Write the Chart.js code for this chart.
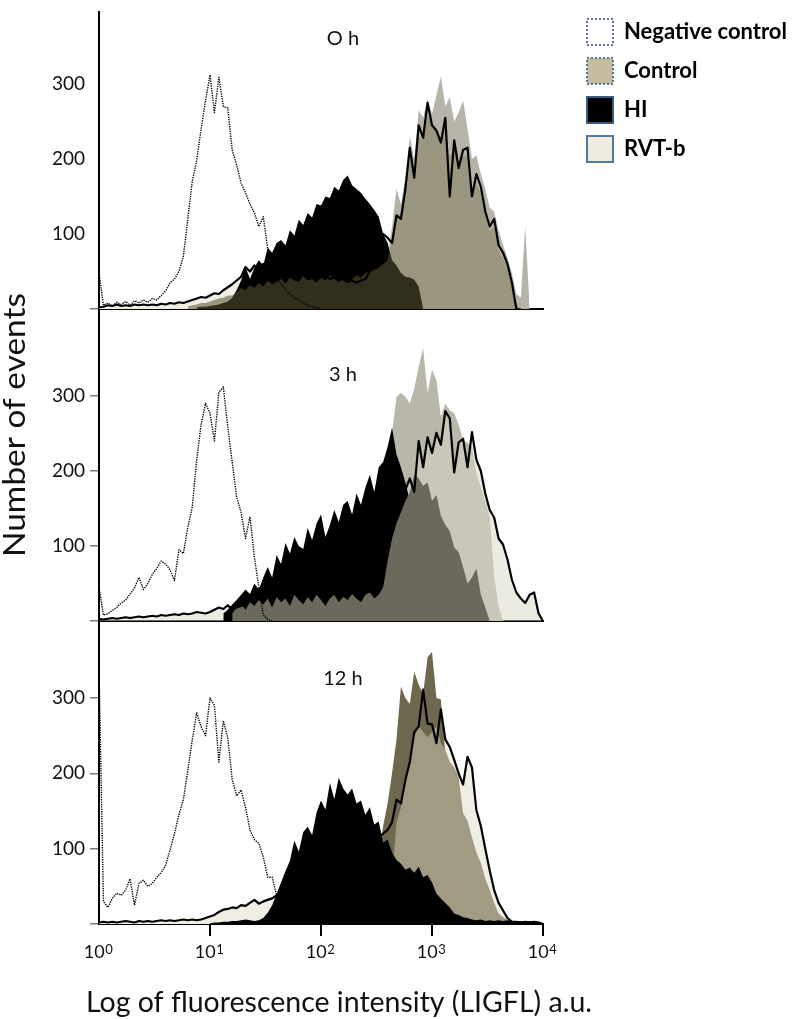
<!DOCTYPE html>
<html><head><meta charset="utf-8">
<script src="https://cdn.jsdelivr.net/npm/chart.js@4.4.1/dist/chart.umd.min.js"></script>
<style>
html,body{margin:0;padding:0;background:#fff;}
#wrap{position:relative;width:797px;height:1019px;overflow:hidden;background:#fff;}
canvas{position:absolute;left:0;}
</style></head>
<body><div id="wrap">
<canvas id="p1" width="797" height="330" style="top:0px"></canvas>
<canvas id="p2" width="797" height="370" style="top:270px"></canvas>
<canvas id="p3" width="797" height="429" style="top:590px"></canvas>
</div>
<script>
// ---------- DATA (counts per channel; channel c => intensity 10^(c*CH)) ----------
const CH = 0.04;
const X_TICKS = [1, 10, 100, 1000, 10000];
const X_EXP = ['0', '1', '2', '3', '4'];
const Y_TICKS = [0, 100, 200, 300];
const PANEL_TITLES = ['O h', '3 h', '12 h'];
const Y_TITLE = 'Number of events';
const X_TITLE = 'Log of fluorescence intensity (LIGFL) a.u.';
const LEGEND_LABELS = ['Negative control', 'Control', 'HI', 'RVT-b'];

// 0 h
const neg0hStart = 0;
const neg0h = [48,5,8,4,9,6,10,5,11,8,12,9,14,12,18,24,35,40,50,70,120,170,198,240,278,312,262,309,270,268,212,192,168,155,140,128,110,123,80,58,42,33,26,20,15,12,8,5,3,2,0];
const hi0hStart = 22;
const hi0h = [2,3,3,4,5,6,8,10,15,25,38,56,40,55,65,58,82,75,88,92,85,105,98,119,112,128,122,140,138,150,148,163,158,172,178,165,160,155,147,140,132,123,100,88,65,58,48,43,42,39,30,0];
const ctrl0hStart = 20;
const ctrl0h = [3,5,6,8,8,10,12,14,15,18, 18,22,28,25,32,28,35,30,38,33, 36,40,34,42,38,36,44,38,40,35, 42,38,45,40,38,42,36,40,45,42, 48,50,52,55,60,65,95,125,130,160, 200,185,230,225,260,245,238,225,245,205, 220,195,205,205,145,170,155,125,105,110, 80,68,55,32,10,0,0,0];
const peak0hStart = 62;
const peak0h = [55,58,62,70,110,160,140,175, 230,200,265,255,280,260,285,310,270,282, 250,262,278,240,200,205,180,160,135,130, 105,85,68,48,20,15,110,0];
const rvt0hStart = 0;
const rvt0h = [2,3,5,4,6,4,5,4,6,5,6, 5,6,5,7,6,8,7,9,8,10, 12,14,16,15,18,21,20,25,29,33, 38,43,56,50,58,52,60,55,58,50, 55,52,50,48,52,45,50,45,48,42, 45,40,42,38,40,36,38,35,38,40, 50,60,80,100,95,88,125,120,160,215, 175,245,228,275,245,238,222,255,150,225, 188,212,215,150,180,163,130,110,120,85, 75,60,35,0];

// 3 h
const neg3hStart = 0;
const neg3h = [45,8,10,14,18,24,28,36,44,58, 42,50,62,70,80,76,68,54,95,90, 125,152,215,262,290,277,240,305,312,259, 212,165,145,110,139,85,45,8,2,0];
const hi3hStart = 28;
const hi3h = [10,15,22,28,35,42,36,50,42,58, 72,58,88,76,104,90,112,100,96,124, 108,130,142,112,128,148,132,155,160,142, 170,155,178,195,172,205,212,232,258,222, 205,185,160,120,60,0];
const dark3hStart = 30;
const dark3h = [10,18,22,15,25,20,28,22,30,18, 32,25,30,20,35,28,22,32,25,35, 28,20,30,35,25,32,28,36,30,25, 35,38,30,35,45,80,110,130,145,160, 172,195,190,180,185,160,168,140,128,120, 98,92,72,50,58,70,35,18,0];
const peak3hStart = 62;
const peak3h = [20,40,80,150,250,299,304,299,290,310, 339,364,304,335,321,272,290,281,277,262, 241,238,232,197,179,160,139,60,20,0];
const rvt3hStart = 0;
const rvt3h = [3, 2,3,4,3,4,5,4,5,6,5,6,7,6,8,7,8,9,8,10,9, 10,12,11,10,12,15,18,16,21,15,18,20,24,30,37, 42,48,52,55,60,62,65,70,72,75,78,80,85,88,92,95,98,102,105,108,112,115,118,122,125,130,135, 140,150,160,170,180,185,175,190,172, 240,205,245,224,251,235,280,270,198,238, 243,205,252,215,200,170,148,138,110,102, 82,55,38,30,24,35,38,10,0];

// 12 h
const neg12hStart = 0;
const neg12h = [341,30,22,34,41,38,45,60,25,54, 58,50,54,62,68,78,98,120,145,165, 204,244,280,262,250,300,290,215,270,247, 192,170,178,155,125,112,107,89,62,62, 38,20,5,0];
const hi12hStart = 25;
const hi12h = [1,2,2,3,3,4,4,5,6,5,4, 5,8,15,25,40,55,70,84,111,96, 122,129,118,148,164,152,187,166,194,180, 172,180,160,164,145,155,132,136,108,112, 95,85,80,72,75,68,76,62,65,55, 40,34,28,22,14,12,9,8,6,5, 6,4,5,4,5,4,5,4,3,4,3,4,3,3,0];
const olive12hStart = 60;
const olive12h = [20,30,45,90,130,160,200,245,315,300, 292,335,318,305,354,361,300,298,225,200, 180,150,120,100,80,60,40,20,10,5,0];
const ctrl12hStart = 60;
const ctrl12h = [10,15,20,25,30,40,60,134,155,190, 214,248,262,255,248,255,262,240,231,215, 208,195,147,137,115,95,81,60,45,28, 14,9,6,0];
const rvt12hStart = 0;
const rvt12h = [2,3,2,3,2,3,4,3,2,4,3,4,3,4,5,4,5,4,5,6,5,6,5, 6,8,10,12,16,19,20,22,21,25,24,28,32,27,30,32,34, 38,40,42,45,48,50,52,55,58,60,62,65,68,70,72,75,78,80,85,90,95,100,110, 115,120,125,135,165,160,191,215,255,262, 311,266,265,240,285,245,235,218,200,185, 222,208,151,130,100,71,45,28,18,8, 3,3,2,3,2,3,2,0];

// ---------- STYLE / LAYOUT ----------
const FONT = 'Lato, "Open Sans", "DejaVu Sans", sans-serif';
Chart.defaults.font.family = FONT;
const NEG_COLOR = '#000000';
const LEG_FILL = ['#ffffff', '#c4bd9d', '#000000', '#eeece2'];
const LEG_STROKE = ['#5b7399', '#5b7399', '#3a5a86', '#5577a0'];
const LEG_DASH = [[2, 2], [2, 2], [], []];

function pts(start, arr) {
  return arr.map((v, i) => ({x: Math.pow(10, (start + i) * CH), y: v}));
}
function areaDs(label, start, arr, color, order, fill) {
  return {label, data: pts(start, arr), backgroundColor: color, borderColor: 'rgba(0,0,0,0)',
    borderWidth: 0, pointRadius: 0, tension: 0, fill: fill || 'origin', order};
}
function lineDs(label, start, arr, color, width, dash, order) {
  return {label, data: pts(start, arr), borderColor: color, borderWidth: width, borderDash: dash,
    borderJoinStyle: 'round', borderCapStyle: 'butt', pointRadius: 0, tension: 0, fill: false, order};
}

const PANELS = [
  {id: 'p1', top: 0, h: 330, padTop: 12, xh: 21, ymax: 396, yMarks: false, xMarks: false, titleY: 39,
   datasets: [
     lineDs('Negative control', neg0hStart, neg0h, NEG_COLOR, 1.4, [1.3, 1.1], 0),
     lineDs('RVT-b', rvt0hStart, rvt0h, '#000', 2.2, [], 1),
     areaDs('Control', ctrl0hStart, ctrl0h, 'rgba(90,82,50,0.56)', 2),
     areaDs('HI', hi0hStart, hi0h, '#000', 3),
     areaDs('Control', peak0hStart, peak0h, '#b6b4a9', 4, {target: 2, above: '#b6b4a9', below: 'rgba(0,0,0,0)'}),
     areaDs('RVT-b', rvt0hStart, rvt0h, '#efede4', 5)
   ]},
  {id: 'p2', top: 270, h: 370, padTop: 40, xh: 19, ymax: 414.7, yMarks: true, xMarks: false, titleY: 375,
   datasets: [
     lineDs('Negative control', neg3hStart, neg3h, NEG_COLOR, 1.4, [1.3, 1.1], 0),
     lineDs('RVT-b', rvt3hStart, rvt3h, '#000', 2.2, [], 1),
     areaDs('Control', dark3hStart, dark3h, '#6b695c', 2),
     areaDs('HI', hi3hStart, hi3h, '#000', 3),
     areaDs('RVT-b', rvt3hStart, rvt3h, 'rgba(218,215,196,0.5)', 4),
     areaDs('Control', peak3hStart, peak3h, '#b9b7aa', 5)
   ]},
  {id: 'p3', top: 590, h: 429, padTop: 31, xh: 95, ymax: 402.2, yMarks: true, xMarks: true, titleY: 679,
   datasets: [
     lineDs('Negative control', neg12hStart, neg12h, NEG_COLOR, 1.4, [1.3, 1.1], 0),
     lineDs('RVT-b', rvt12hStart, rvt12h, '#000', 2.2, [], 1),
     areaDs('HI', hi12hStart, hi12h, '#000', 2),
     areaDs('Control', ctrl12hStart, ctrl12h, '#a09b82', 3),
     areaDs('Control', olive12hStart, olive12h, '#6e684f', 4),
     areaDs('RVT-b', rvt12hStart, rvt12h, '#efede4', 5)
   ]}
];

function fitText(ctx, text, size, weight, targetW) {
  ctx.font = `${weight} ${size}px ${FONT}`;
  const w = ctx.measureText(text).width;
  ctx.scale(targetW / w, 1);
  ctx.textAlign = 'center';
  ctx.textBaseline = 'alphabetic';
  ctx.fillText(text, 0, 0);
}

function textPlugin(p, idx) {
  return {
    id: 'texts' + idx,
    afterDraw(chart) {
      const ctx = chart.ctx;
      ctx.save();
      ctx.fillStyle = '#111';
      ctx.font = `20px ${FONT}`;
      ctx.textAlign = 'center';
      ctx.textBaseline = 'middle';
      ctx.fillText(PANEL_TITLES[idx], 343, p.titleY - p.top);
      if (idx === 1) {
        ctx.save();
        ctx.translate(25, 425 - p.top);
        ctx.rotate(-Math.PI / 2);
        fitText(ctx, Y_TITLE, 30, 'normal', 264);
        ctx.restore();
      }
      if (idx === 2) {
        const xs = chart.scales.x;
        X_TICKS.forEach((v, k) => {
          const px = xs.getPixelForValue(v);
          ctx.font = `18px ${FONT}`;
          const w10 = ctx.measureText('10').width;
          ctx.font = `13px ${FONT}`;
          const ws = ctx.measureText(X_EXP[k]).width;
          const left = px - 1 - (w10 + ws) / 2;
          ctx.textAlign = 'left';
          ctx.textBaseline = 'alphabetic';
          ctx.font = `18px ${FONT}`;
          ctx.fillText('10', left, 958 - p.top);
          ctx.font = `13px ${FONT}`;
          ctx.fillText(X_EXP[k], left + w10 + 0.5, 954 - p.top);
        });
        ctx.save();
        ctx.translate(339, 1012 - p.top);
        fitText(ctx, X_TITLE, 29, 'normal', 506);
        ctx.restore();
      }
      ctx.restore();
    }
  };
}

const legendPlace = {
  id: 'legendPlace',
  afterLayout(chart) {
    const lg = chart.legend;
    if (!lg) return;
    const w = lg.width, h = lg.height;
    lg.left = 574; lg.top = 6; lg.right = 574 + w; lg.bottom = 6 + h;
  }
};

PANELS.forEach((p, idx) => {
  const legendOpts = idx === 0 ? {
    display: true, position: 'chartArea', align: 'start',
    labels: {
      boxWidth: 26, boxHeight: 26, padding: 13, color: '#000',
      font: {family: FONT, size: 22, weight: 'bold'},
      generateLabels: () => LEGEND_LABELS.map((t, i) => ({
        text: t, fillStyle: LEG_FILL[i], strokeStyle: LEG_STROKE[i], lineWidth: 2,
        lineDash: LEG_DASH[i], hidden: false, datasetIndex: i, fontColor: '#000'
      }))
    }
  } : {display: false};

  new Chart(document.getElementById(p.id), {
    type: 'line',
    data: {datasets: p.datasets},
    options: {
      responsive: false, maintainAspectRatio: false, animation: false, devicePixelRatio: 1,
      events: [],
      layout: {padding: {top: p.padTop, left: 0, right: 254, bottom: 0}},
      plugins: {legend: legendOpts, tooltip: {enabled: false}, title: {display: false}},
      scales: {
        x: {
          type: 'logarithmic', min: 1, max: 10000,
          afterBuildTicks: s => { s.ticks = X_TICKS.map(v => ({value: v})); },
          afterFit: s => { s.height = p.xh; s.paddingLeft = 0; s.paddingRight = 0; },
          ticks: {display: false},
          grid: {display: p.xMarks, drawOnChartArea: false, drawTicks: true, tickLength: 12, lineWidth: 2,
            color: c => (c.tick && c.tick.value === 1) ? 'rgba(0,0,0,0)' : '#000'},
          border: {display: true, color: '#000', width: 2}
        },
        y: {
          type: 'linear', min: 0, max: p.ymax,
          afterBuildTicks: s => { s.ticks = Y_TICKS.map(v => ({value: v})); },
          afterFit: s => { s.width = 99; s.paddingTop = 0; s.paddingBottom = 0; },
          ticks: {callback: v => v === 0 ? '' : String(v), color: '#111', font: {family: FONT, size: 19}, padding: 5},
          grid: {display: true, drawOnChartArea: false, drawTicks: true, tickLength: 9, lineWidth: 1.5,
            color: c => (c.tick && (c.tick.value === 0 || p.yMarks)) ? '#7a7a7a' : 'rgba(0,0,0,0)'},
          border: {display: true, color: '#000', width: 2}
        }
      }
    },
    plugins: idx === 0 ? [legendPlace, textPlugin(p, idx)] : [textPlugin(p, idx)]
  });
});
</script>
</body></html>
